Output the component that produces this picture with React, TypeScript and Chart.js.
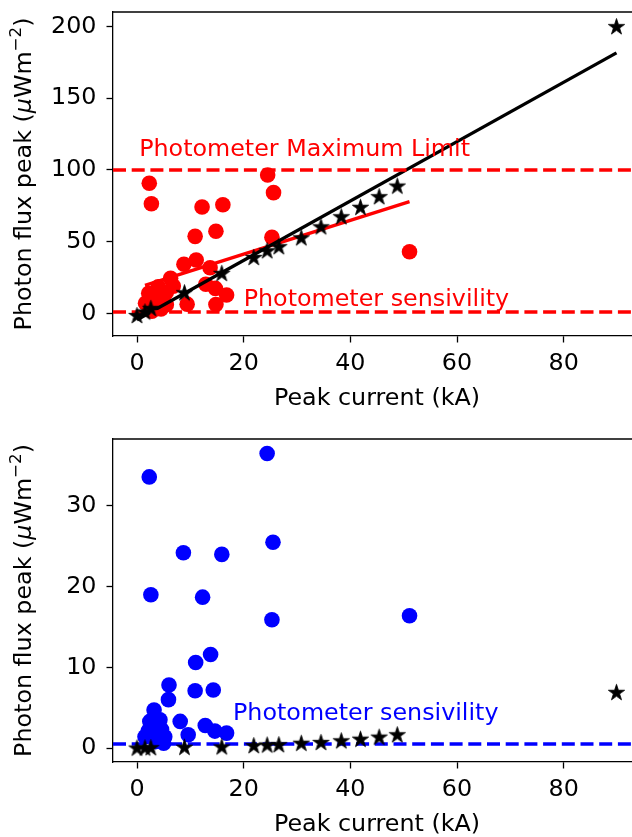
import React, { useEffect, useRef } from "react";
import { Chart, registerables } from "chart.js";
Chart.register(...registerables);

const FONT = "'DejaVu Sans', sans-serif";
const FS = 23.8;

// ---- data ----
const xTicks = [0, 20, 40, 60, 80];
const topYTicks = [0, 50, 100, 150, 200];
const bottomYTicks = [0, 10, 20, 30];

const redX = [2.3, 2.7, 12.2, 16.1, 10.9, 14.8, 24.5, 25.6, 25.3, 51.1, 8.8, 11.1, 13.7, 6.3, 12.9, 14.7, 16.8, 9.4, 14.8, 4.0, 2.2, 1.6, 4.7, 3.4, 5.5, 3.0, 4.5, 5.5, 2.8, 6.8];
const redY = [90.7, 76.5, 74.2, 75.8, 53.7, 57.3, 96.5, 84.2, 53.0, 43.0, 34.3, 37.2, 31.8, 24.4, 20.3, 17.4, 12.8, 6.4, 6.2, 18.6, 14.0, 7.0, 9.3, 4.6, 14.5, 10.5, 3.0, 6.0, 1.5, 19.0];

const blueX = [2.3, 2.6, 12.3, 15.9, 8.7, 24.4, 25.5, 25.3, 51.1, 11.0, 13.8, 6.0, 10.9, 14.3, 5.9, 3.2, 2.4, 4.3, 2.1, 4.6, 1.5, 4.0, 5.2, 8.1, 9.6, 12.8, 14.6, 16.8, 3.5, 5.0];
const blueY = [33.6, 19.0, 18.7, 24.0, 24.2, 36.5, 25.5, 15.9, 16.4, 10.6, 11.6, 7.8, 7.1, 7.2, 6.0, 4.7, 3.3, 3.5, 2.1, 2.3, 1.4, 1.2, 1.4, 3.3, 1.65, 2.8, 2.1, 1.85, 0.8, 0.6];

const starX = [0, 1.5, 2.6, 8.9, 15.9, 21.9, 24.4, 26.6, 30.8, 34.5, 38.3, 41.9, 45.4, 48.8, 89.9];
const starTopY = [-1.5, 1.0, 3.5, 14.4, 27.9, 39.0, 43.7, 46.5, 52.7, 60.4, 67.4, 74.0, 81.4, 88.8, 200];
const starBottomY = [0, 0.02, 0.05, 0.1, 0.15, 0.3, 0.38, 0.42, 0.6, 0.7, 0.9, 1.1, 1.36, 1.65, 6.9];

const blackFitX = [0, 89.9];
const blackFitY = [-4.5, 181.7];
const redFitX = [1.5, 51.1];
const redFitY = [19.5, 77.9];

const maxLimit = 100;
const topSensitivity = 1;
const bottomSensitivity = 0.5;

const X_MIN = -4.5;
const X_MAX = 94.5;

const W = 660;

function pts(xs: number[], ys: number[]) {
  return xs.map((x, i) => ({ x, y: ys[i] }));
}

function makeStar(): HTMLCanvasElement {
  const s = 19;
  const c = document.createElement("canvas");
  c.width = s;
  c.height = s;
  const g = c.getContext("2d")!;
  const R = 8.6;
  const r = R * 0.382;
  const cx = s / 2;
  const cy = s / 2 + 0.5;
  g.beginPath();
  for (let i = 0; i < 10; i++) {
    const a = -Math.PI / 2 + (i * Math.PI) / 5;
    const rad = i % 2 === 0 ? R : r;
    g.lineTo(cx + rad * Math.cos(a), cy + rad * Math.sin(a));
  }
  g.closePath();
  g.fillStyle = "#000";
  g.fill();
  g.lineWidth = 0.8;
  g.strokeStyle = "#000";
  g.stroke();
  return c;
}

function hline(y: number, color: string, order: number) {
  return {
    type: "scatter",
    data: [
      { x: X_MIN, y },
      { x: X_MAX, y },
    ],
    showLine: true,
    borderColor: color,
    borderWidth: 3.5,
    borderDash: [13, 5.7],
    pointRadius: 0,
    order,
  };
}

const decoPlugin = {
  id: "deco",
  afterDraw(chart: any, _args: any, opts: any) {
    const ctx = chart.ctx as CanvasRenderingContext2D;
    const ca = chart.chartArea;
    const xs = chart.scales.x;
    const ys = chart.scales.y;
    ctx.save();
    // top spine
    ctx.strokeStyle = "#000";
    ctx.lineWidth = 1.3;
    ctx.beginPath();
    ctx.moveTo(ca.left, ca.top);
    ctx.lineTo(ca.right, ca.top);
    ctx.stroke();

    // annotations
    ctx.textAlign = "left";
    ctx.textBaseline = "alphabetic";
    ctx.font = `${FS}px ${FONT}`;
    for (const t of opts.texts || []) {
      ctx.fillStyle = t.color;
      ctx.fillText(t.text, xs.getPixelForValue(t.x), ys.getPixelForValue(t.y));
    }

    // x title
    ctx.fillStyle = "#000";
    ctx.textAlign = "center";
    ctx.fillText("Peak current (kA)", (ca.left + ca.right) / 2, ca.bottom + 69);

    // y title with mathtext-like pieces
    const main = `${FS}px ${FONT}`;
    const ital = `oblique ${FS}px ${FONT}`;
    const sup = `${FS * 0.7}px ${FONT}`;
    const parts = [
      { t: "Photon flux peak (", f: main, dy: 0 },
      { t: "μ", f: ital, dy: 0 },
      { t: "Wm", f: main, dy: 0 },
      { t: "−2", f: sup, dy: -FS * 0.42 },
      { t: ")", f: main, dy: 0 },
    ];
    let total = 0;
    const widths: number[] = [];
    for (const p of parts) {
      ctx.font = p.f;
      const w = ctx.measureText(p.t).width;
      widths.push(w);
      total += w;
    }
    ctx.translate(31, (ca.top + ca.bottom) / 2);
    ctx.rotate(-Math.PI / 2);
    ctx.textAlign = "left";
    let px = -total / 2;
    parts.forEach((p, i) => {
      ctx.font = p.f;
      ctx.fillText(p.t, px, p.dy);
      px += widths[i];
    });
    ctx.restore();
  },
};

function buildConfig(panel: any) {
  const tickFont = { family: FONT, size: FS };
  return {
    type: "scatter",
    data: { datasets: panel.datasets },
    options: {
      animation: false,
      responsive: false,
      devicePixelRatio: 1,
      layout: { padding: { top: panel.padTop, left: 0, right: W - 641, bottom: 0 } },
      plugins: {
        legend: { display: false },
        tooltip: { enabled: false },
        deco: { texts: panel.texts },
      },
      scales: {
        x: {
          type: "linear",
          min: X_MIN,
          max: X_MAX,
          afterBuildTicks: (a: any) => {
            a.ticks = xTicks.map((v) => ({ value: v }));
          },
          afterFit: (a: any) => {
            a.height = 82;
            a.paddingLeft = 0;
            a.paddingRight = 0;
            a.paddingTop = 0;
            a.paddingBottom = 0;
          },
          grid: {
            display: true,
            drawOnChartArea: false,
            drawTicks: true,
            tickLength: 6.5,
            tickWidth: 1.3,
            tickColor: "#000",
          },
          border: { display: true, color: "#000", width: 1.3 },
          ticks: {
            color: "#000",
            font: tickFont,
            padding: 7,
            maxRotation: 0,
            minRotation: 0,
            autoSkip: false,
            callback: (v: any) => String(v),
          },
          title: { display: false },
        },
        y: {
          type: "linear",
          min: panel.yMin,
          max: panel.yMax,
          afterBuildTicks: (a: any) => {
            a.ticks = panel.yTicks.map((v: number) => ({ value: v }));
          },
          afterFit: (a: any) => {
            a.width = 113;
            a.paddingLeft = 0;
            a.paddingRight = 0;
            a.paddingTop = 0;
            a.paddingBottom = 0;
          },
          grid: {
            display: true,
            drawOnChartArea: false,
            drawTicks: true,
            tickLength: 6.5,
            tickWidth: 1.3,
            tickColor: "#000",
          },
          border: { display: true, color: "#000", width: 1.3 },
          ticks: {
            color: "#000",
            font: tickFont,
            padding: 10,
            autoSkip: false,
            callback: (v: any) => String(v),
          },
          title: { display: false },
        },
      },
    },
    plugins: [decoPlugin],
  };
}

export default function App() {
  const topRef = useRef<HTMLCanvasElement>(null);
  const botRef = useRef<HTMLCanvasElement>(null);

  useEffect(() => {
    const star = makeStar();
    const topPanel = {
      padTop: 12,
      yMin: -15.8,
      yMax: 210.2,
      yTicks: topYTicks,
      texts: [
        { text: "Photometer Maximum Limit", x: 0.4, y: 110, color: "#ff0000" },
        { text: "Photometer sensivility", x: 20, y: 5, color: "#ff0000" },
      ],
      datasets: [
        {
          data: pts(redX, redY),
          backgroundColor: "#ff0000",
          borderWidth: 0,
          pointRadius: 7.8,
          order: 6,
        },
        {
          data: pts(redFitX, redFitY),
          showLine: true,
          borderColor: "#ff0000",
          borderWidth: 3.3,
          pointRadius: 0,
          order: 4,
        },
        {
          data: pts(blackFitX, blackFitY),
          showLine: true,
          borderColor: "#000000",
          borderWidth: 3.3,
          pointRadius: 0,
          order: 3,
        },
        hline(maxLimit, "#ff0000", 2),
        hline(topSensitivity, "#ff0000", 2),
        {
          data: pts(starX, starTopY),
          pointStyle: star,
          order: 1,
        },
      ],
    };
    const botPanel = {
      padTop: 21,
      yMin: -1.73,
      yMax: 38.3,
      yTicks: bottomYTicks,
      texts: [{ text: "Photometer sensivility", x: 18, y: 3.5, color: "#0000ff" }],
      datasets: [
        {
          data: pts(blueX, blueY),
          backgroundColor: "#0000ff",
          borderWidth: 0,
          pointRadius: 7.8,
          order: 6,
        },
        hline(bottomSensitivity, "#0000ff", 2),
        {
          data: pts(starX, starBottomY),
          pointStyle: star,
          order: 1,
        },
      ],
    };
    const c1 = new Chart(topRef.current!, buildConfig(topPanel) as any);
    const c2 = new Chart(botRef.current!, buildConfig(botPanel) as any);
    return () => {
      c1.destroy();
      c2.destroy();
    };
  }, []);

  return (
    <div
      style={{
        position: "fixed",
        left: 0,
        top: 0,
        width: 632,
        height: 837,
        overflow: "hidden",
        background: "#fff",
      }}
    >
      <canvas
        ref={topRef}
        width={W}
        height={418}
        style={{ position: "absolute", left: 0, top: 0, width: W, height: 418 }}
      />
      <canvas
        ref={botRef}
        width={W}
        height={426}
        style={{ position: "absolute", left: 0, top: 418, width: W, height: 426 }}
      />
    </div>
  );
}
